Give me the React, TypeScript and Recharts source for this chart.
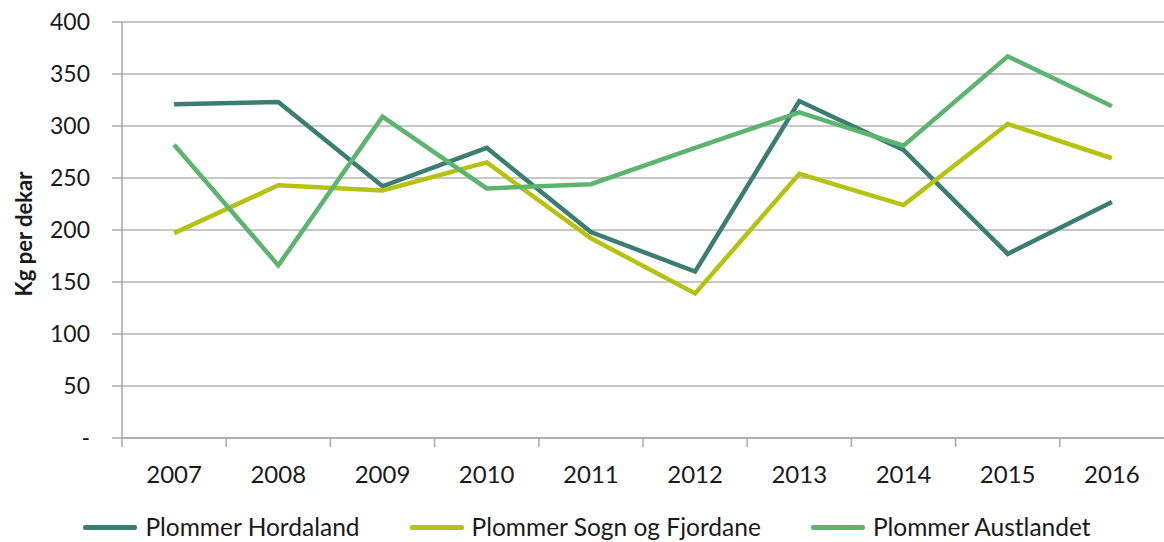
import React from 'react';
import { LineChart, Line, XAxis, YAxis, CartesianGrid, Legend } from 'recharts';

const years = ['2007', '2008', '2009', '2010', '2011', '2012', '2013', '2014', '2015', '2016'];
const hordaland = [321, 323, 242, 279, 198, 160, 324, 277, 177, 227];
const sognFjordane = [197, 243, 238, 265, 192, 139, 254, 224, 302, 269];
const austlandet = [282, 166, 309, 240, 244, 279, 313, 281, 367, 319];
const yTicks = [0, 50, 100, 150, 200, 250, 300, 350, 400];

const seriesNames = ['Plommer Hordaland', 'Plommer Sogn og Fjordane', 'Plommer Austlandet'];
const colors = ['#3b7d72', '#b5c20f', '#5cb46e'];

const data = years.map((y, i) => ({
  year: y,
  h: hordaland[i],
  s: sognFjordane[i],
  a: austlandet[i],
}));

const FONT = 'Lato, "Open Sans", sans-serif';

const renderLegend = () => (
  <div
    style={{
      display: 'flex',
      justifyContent: 'center',
      alignItems: 'flex-end',
      height: 44,
      gap: 50,
      fontFamily: FONT,
      fontSize: 24.5,
      lineHeight: '30px',
      color: '#1a1a1a',
      paddingLeft: 10,
    }}
  >
    {seriesNames.map((n, i) => (
      <div key={n} style={{ display: 'flex', alignItems: 'center', height: 30 }}>
        <div style={{ width: 54, height: 5, background: colors[i], borderRadius: 2, marginRight: 8 }} />
        <span>{n}</span>
      </div>
    ))}
  </div>
);

const YTitle = (props: any) => {
  const vb = props.viewBox || { x: 0, y: 0, width: 0, height: 0 };
  const cx = 23;
  const cy = vb.y + vb.height / 2 + 4;
  return (
    <text
      x={cx}
      y={cy}
      transform={`rotate(-90 ${cx} ${cy})`}
      textAnchor="middle"
      dominantBaseline="central"
      fontFamily={FONT}
      fontWeight="bold"
      fontSize={22}
      fill="#1a1a1a"
    >
      Kg per dekar
    </text>
  );
};

const XTick = (props: any) => {
  const { x, y, payload } = props;
  const off = payload && typeof payload.offset === 'number' ? payload.offset : 0;
  const axisY = y - 28;
  const bx = x - off;
  return (
    <g>
      <line x1={bx} y1={axisY} x2={bx} y2={axisY + 9} stroke="#a8a8a8" strokeWidth={1.5} />
      <text
        x={x}
        y={y}
        dy="0.71em"
        textAnchor="middle"
        fontFamily={FONT}
        fontSize={24}
        fill="#1a1a1a"
      >
        {payload.value}
      </text>
    </g>
  );
};

export default function App() {
  return (
    <div style={{ position: 'absolute', left: 0, top: 0, background: '#fff' }}>
      <LineChart width={1164} height={542} data={data} margin={{ top: 22, right: 0, left: 0, bottom: 0 }}>
        <CartesianGrid vertical={false} stroke="#b5b5b5" strokeWidth={1.5} />
        <XAxis
          dataKey="year"
          scale="band"
          axisLine={{ stroke: '#a8a8a8', strokeWidth: 1.5 }}
          tickLine={false}
          tickSize={0}
          tickMargin={28}
          height={60}
          interval={0}
          tick={<XTick />}
        />
        <YAxis
          width={122}
          domain={[0, 400]}
          ticks={yTicks}
          interval={0}
          tickSize={10}
          tickMargin={22}
          tickFormatter={(v: number) => (v === 0 ? '-' : String(v))}
          stroke="#a8a8a8"
          strokeWidth={1.5}
          tick={{ fontFamily: FONT, fontSize: 23, fill: '#1a1a1a' }}
          label={{ content: YTitle }}
        />
        <Legend verticalAlign="bottom" height={44} content={renderLegend} />
        <Line dataKey="h" name={seriesNames[0]} stroke={colors[0]} strokeWidth={4.5} dot={false} isAnimationActive={false} />
        <Line dataKey="s" name={seriesNames[1]} stroke={colors[1]} strokeWidth={4.5} dot={false} isAnimationActive={false} />
        <Line dataKey="a" name={seriesNames[2]} stroke={colors[2]} strokeWidth={4.5} dot={false} isAnimationActive={false} />
      </LineChart>
    </div>
  );
}
